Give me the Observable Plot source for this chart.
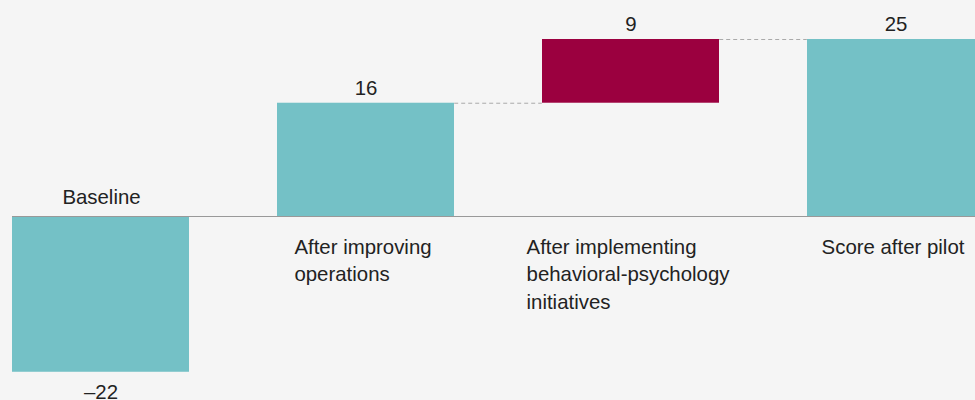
<!DOCTYPE html>
<html>
<head>
<meta charset="utf-8">
<script src="https://cdn.jsdelivr.net/npm/d3@7"></script>
<script src="https://cdn.jsdelivr.net/npm/@observablehq/plot@0.6"></script>
<style>
  html, body { margin: 0; padding: 0; background: #f5f5f5; overflow: hidden; }
  #chart svg { display: block; }
</style>
</head>
<body>
<div id="chart"></div>
<script>
// ---- data ----
const categories = [
  "Baseline",
  "After improving\noperations",
  "After implementing\nbehavioral-psychology\ninitiatives",
  "Score after pilot"
];
const barStart = [0, 0, 16, 0];
const barEnd = [-22, 16, 25, 25];
const valueLabels = ["\u201322", "16", "9", "25"];
const barKind = ["total", "total", "change", "total"];
const connectors = [[1, 2], [2, 3]];

// ---- styling ----
const FONT = '"Liberation Sans", Arial, Helvetica, sans-serif';
const FS = 20.4;
const TEXT = "#222";
const colors = { total: "#74c1c6", change: "#9b003f" };

const rows = categories.map((c, i) => ({
  cat: c, y1: barStart[i], y2: barEnd[i], label: valueLabels[i], kind: barKind[i],
  hi: Math.max(barStart[i], barEnd[i]), lo: Math.min(barStart[i], barEnd[i])
}));

const xOpts = { type: "band", domain: categories, range: [12, 985], paddingInner: 0.332, paddingOuter: 0 };
const bw = Plot.scale({ x: xOpts }).bandwidth;

const conn = connectors.map(([a, b]) => ({ from: categories[a], to: categories[b], y: barEnd[a] }));

// text measurement for left-aligned multi-line blocks centered under bars
const ctx = document.createElement("canvas").getContext("2d");
ctx.font = `${FS}px ${FONT}`;
const blockWidth = s => Math.max(...s.split("\n").map(l => ctx.measureText(l).width));

const catMarks = rows.map(r => {
  const above = r.y2 < 0;
  return Plot.text([r], {
    x: "cat", y: () => 0, text: "cat",
    textAnchor: "start", dx: -blockWidth(r.cat) / 2 + (above ? 0.5 : -3),
    lineAnchor: above ? "middle" : "top",
    dy: above ? -21.5 : 18.5,
    lineHeight: 1.33, fill: TEXT, fontSize: FS
  });
});

const chart = Plot.plot({
  width: 975,
  height: 400,
  marginLeft: 12,
  marginRight: 0,
  marginTop: 0,
  marginBottom: 0,
  style: { background: "#f5f5f5", fontFamily: FONT, fontSize: FS + "px", color: TEXT, overflow: "hidden" },
  x: { ...xOpts, axis: null },
  y: { domain: [-22, 25], range: [371.76, 39], axis: null },
  marks: [
    Plot.barY(rows, { x: "cat", y1: "y1", y2: "y2", fill: d => colors[d.kind] }),
    Plot.ruleY([0], { stroke: "#999", strokeWidth: 1 }),
    Plot.ruleY(conn, { x1: "from", x2: "to", y: "y", insetLeft: bw, insetRight: bw, stroke: "#aaa", strokeWidth: 1, strokeDasharray: "4,3" }),
    Plot.text(rows.filter(r => r.y2 >= 0), { x: "cat", y: "hi", text: "label", dy: -15, fill: TEXT, fontSize: FS }),
    Plot.text(rows.filter(r => r.y2 < 0), { x: "cat", y: "lo", text: "label", dy: 20.4, fill: TEXT, fontSize: FS }),
    ...catMarks
  ]
});
document.getElementById("chart").append(chart);
</script>
</body>
</html>
